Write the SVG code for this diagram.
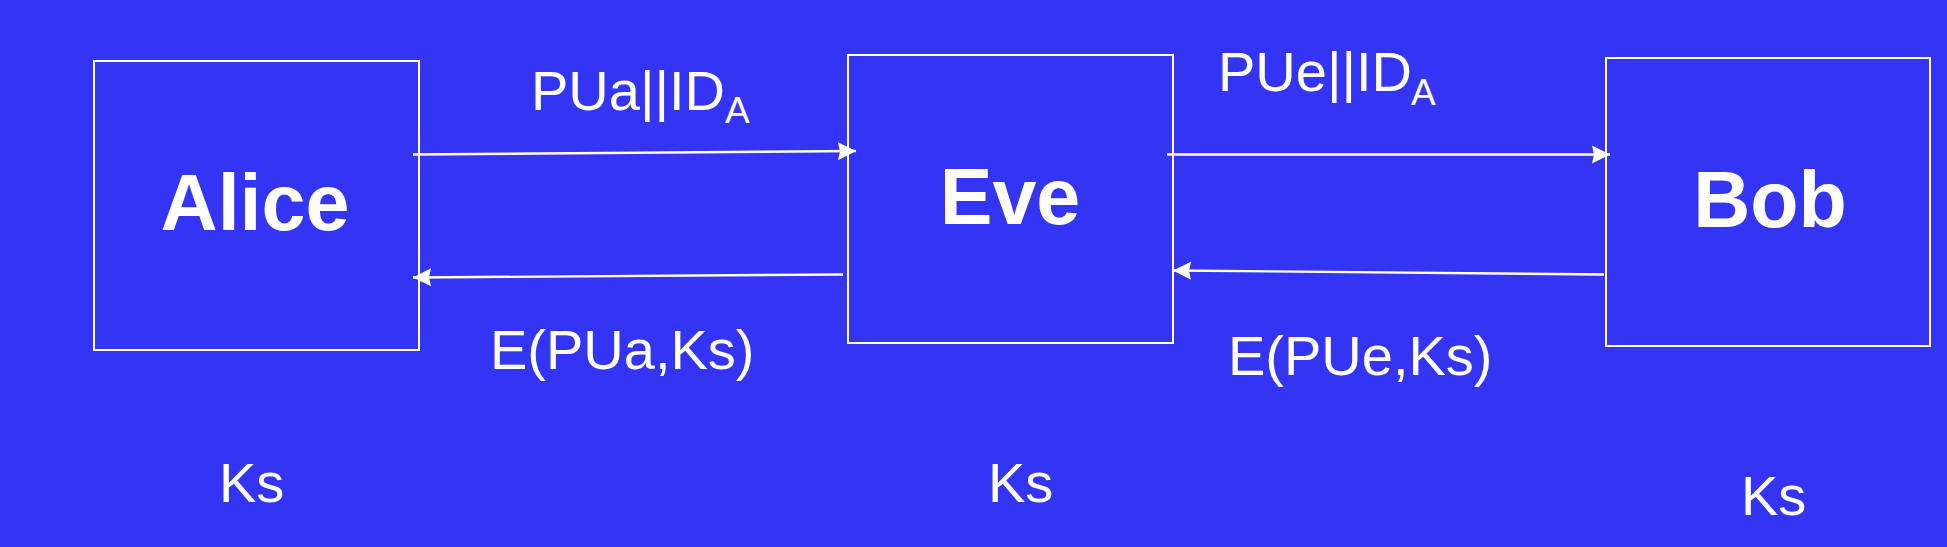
<svg xmlns="http://www.w3.org/2000/svg" width="1947" height="547" viewBox="0 0 1947 547">
<style>
.box{fill:none;stroke:#ffffff;stroke-width:2}
.name{font-family:"Liberation Sans",Arial,sans-serif;font-weight:bold;font-size:79px;fill:#ffffff;text-anchor:middle}
.lbl{font-family:"Liberation Sans",Arial,sans-serif;font-size:56px;fill:#ffffff}
.sub{font-family:"Liberation Sans",Arial,sans-serif;font-size:37px;fill:#ffffff}
.conn{stroke:#ffffff;stroke-width:2.4;fill:none;marker-end:url(#ah)}
</style>
<defs>
<marker id="ah" markerUnits="userSpaceOnUse" markerWidth="20" markerHeight="20" viewBox="0 0 20 20" refX="18" refY="10" orient="auto">
<polygon points="0,1 18,10 0,19 2,10" fill="#ffffff"/>
</marker>
</defs>
<rect x="0" y="0" width="1947" height="547" fill="#3434F5"/>
<g id="alice">
<rect class="box" x="94" y="61" width="325" height="289"/>
<text class="name" x="255" y="230">Alice</text>
<text class="lbl" x="219" y="502">Ks</text>
</g>
<g id="eve">
<rect class="box" x="848" y="55" width="325" height="288"/>
<text class="name" x="1010" y="224">Eve</text>
<text class="lbl" x="988" y="502">Ks</text>
</g>
<g id="bob">
<rect class="box" x="1606" y="58" width="324" height="288"/>
<text class="name" x="1770" y="227">Bob</text>
<text class="lbl" x="1741" y="515">Ks</text>
</g>
<g id="connectors">
<line class="conn" x1="413" y1="154.5" x2="856" y2="151"/>
<line class="conn" x1="843" y1="274.5" x2="413" y2="277.5"/>
<line class="conn" x1="1167" y1="154.5" x2="1610" y2="154.5"/>
<line class="conn" x1="1604" y1="274.5" x2="1173" y2="270.5"/>
</g>
<g id="labels">
<text class="lbl" x="531" y="110">PUa||ID</text>
<text class="sub" x="725" y="123">A</text>
<text class="lbl" x="1218" y="91">PUe||ID</text>
<text class="sub" x="1411" y="105">A</text>
<text class="lbl" x="490" y="369">E(PUa,Ks)</text>
<text class="lbl" x="1228" y="375">E(PUe,Ks)</text>
</g>
</svg>
